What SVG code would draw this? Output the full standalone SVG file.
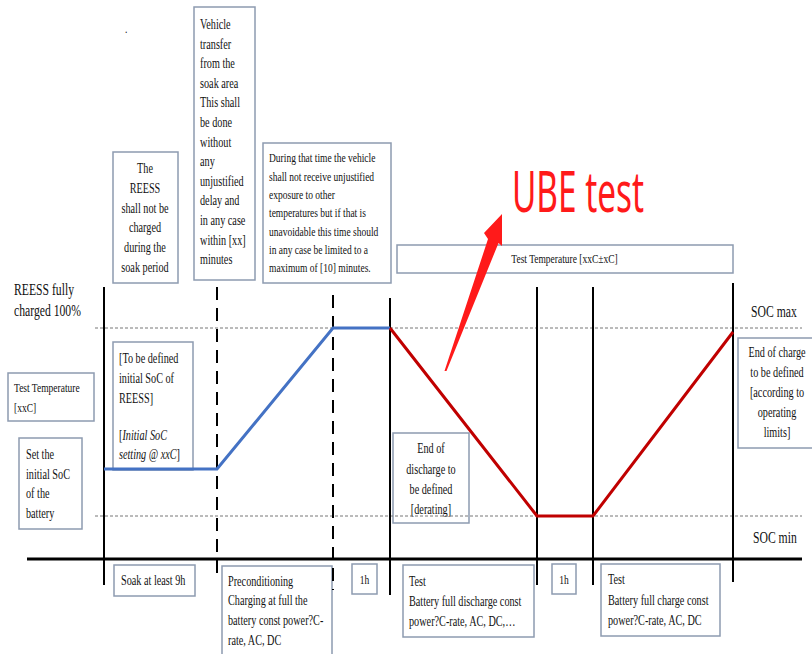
<svg xmlns="http://www.w3.org/2000/svg" width="812" height="654" viewBox="0 0 812 654">
<style>
.box{fill:#fff;stroke:#8d9bb0;stroke-width:1.5}
.t{font-family:"Liberation Serif","Times New Roman",serif;font-size:14px;fill:#111}
.s13{font-size:13px}
.s16{font-size:16px}
.c{text-anchor:middle}
.i{font-style:italic}
.vl{stroke:#000;stroke-width:2;fill:none}
.dl{stroke:#000;stroke-width:2;fill:none;stroke-dasharray:13 8}
.dot{stroke:#777;stroke-width:1;stroke-dasharray:3 2;fill:none}
</style>
<rect width="812" height="654" fill="#fff"/>
<text class="t s13" x="171.2" y="33" transform="scale(0.73 1)" fill="#888">.</text>

<g id="node-reess-not-charged">
<rect class="box" x="113" y="152" width="65" height="131"/>
<text class="t c" transform="scale(0.73 1)"><tspan x="198.6" y="173">The</tspan><tspan x="198.6" y="193">REESS</tspan><tspan x="198.6" y="213">shall not be</tspan><tspan x="198.6" y="232.5">charged</tspan><tspan x="198.6" y="252">during the</tspan><tspan x="198.6" y="272">soak period</tspan></text>
</g>
<g id="node-vehicle-transfer">
<rect class="box" x="194" y="7" width="61" height="273"/>
<text class="t" transform="scale(0.73 1)"><tspan x="274" y="29">Vehicle</tspan><tspan x="274" y="48.6">transfer</tspan><tspan x="274" y="68.2">from the</tspan><tspan x="274" y="87.8">soak area</tspan><tspan x="274" y="107.4">This shall</tspan><tspan x="274" y="127">be done</tspan><tspan x="274" y="146.6">without</tspan><tspan x="274" y="166.2">any</tspan><tspan x="274" y="185.8">unjustified</tspan><tspan x="274" y="205.4">delay and</tspan><tspan x="274" y="225">in any case</tspan><tspan x="274" y="244.6">within [xx]</tspan><tspan x="274" y="264.2">minutes</tspan></text>
</g>
<g id="node-during-time">
<rect class="box" x="263" y="143" width="128" height="140"/>
<text class="t s13" transform="scale(0.73 1)"><tspan x="368.5" y="162.5">During that time the vehicle</tspan><tspan x="368.5" y="180.8">shall not receive unjustified</tspan><tspan x="368.5" y="199.2">exposure to other</tspan><tspan x="368.5" y="217.5">temperatures but if that is</tspan><tspan x="368.5" y="235.8">unavoidable this time should</tspan><tspan x="368.5" y="254.2">in any case be limited to a</tspan><tspan x="368.5" y="272.5">maximum of [10] minutes.</tspan></text>
</g>
<g id="label-reess-full">
<text class="t s16" transform="scale(0.73 1)"><tspan x="19.2" y="295">REESS fully</tspan><tspan x="19.2" y="316">charged 100%</tspan></text>
</g>
<g id="node-initial-soc">
<rect class="box" x="113" y="342" width="80" height="128"/>
<text class="t" transform="scale(0.73 1)"><tspan x="163" y="363">[To be defined</tspan><tspan x="163" y="383">initial SoC of</tspan><tspan x="163" y="403">REESS]</tspan><tspan x="163" y="440">[<tspan class="i">Initial SoC</tspan></tspan><tspan x="163" y="459"><tspan class="i">setting @ xxC</tspan>]</tspan></text>
</g>
<g id="node-test-temp-left">
<rect class="box" x="8" y="373" width="86" height="48"/>
<text class="t s13" transform="scale(0.73 1)"><tspan x="19.2" y="392">Test Temperature</tspan><tspan x="19.2" y="412">[xxC]</tspan></text>
</g>
<g id="node-set-initial">
<rect class="box" x="19" y="438" width="63" height="91"/>
<text class="t" transform="scale(0.73 1)"><tspan x="35.6" y="459">Set the</tspan><tspan x="35.6" y="479">initial SoC</tspan><tspan x="35.6" y="498.5">of the</tspan><tspan x="35.6" y="518">battery</tspan></text>
</g>
<g id="node-test-temp-top">
<rect class="box" x="397" y="245" width="336" height="28"/>
<text class="t s13 c" x="773.3" y="263" transform="scale(0.73 1)">Test Temperature [xxC±xC]</text>
</g>
<g id="node-end-discharge">
<rect class="box" x="393" y="433" width="76" height="90"/>
<text class="t c" transform="scale(0.73 1)"><tspan x="590.4" y="453.5">End of</tspan><tspan x="590.4" y="474">discharge to</tspan><tspan x="590.4" y="494">be defined</tspan><tspan x="590.4" y="514">[derating]</tspan></text>
</g>
<g id="node-end-charge">
<rect class="box" x="738" y="338" width="80" height="110"/>
<text class="t c" transform="scale(0.73 1)"><tspan x="1064.4" y="357.5">End of charge</tspan><tspan x="1064.4" y="377.5">to be defined</tspan><tspan x="1064.4" y="397.5">[according to</tspan><tspan x="1064.4" y="417">operating</tspan><tspan x="1064.4" y="437">limits]</tspan></text>
</g>
<g id="label-soc">
<text class="t s16" x="1028.8" y="317" transform="scale(0.73 1)">SOC max</text>
<text class="t s16" x="1031.5" y="543" transform="scale(0.73 1)">SOC min</text>
</g>
<g id="node-soak">
<rect class="box" x="114" y="565" width="81" height="31"/>
<text class="t" x="165.8" y="585" transform="scale(0.73 1)">Soak at least 9h</text>
</g>
<g id="node-precond">
<rect class="box" x="222" y="566" width="110" height="100"/>
<text class="t" transform="scale(0.73 1)"><tspan x="312.3" y="586">Preconditioning</tspan><tspan x="312.3" y="605.5">Charging at full the</tspan><tspan x="312.3" y="625">battery const power?C-</tspan><tspan x="312.3" y="645">rate, AC, DC</tspan></text>
</g>
<g id="node-1h-a">
<rect class="box" x="352" y="564" width="25" height="30"/>
<text class="t s13 c" x="499.3" y="584" transform="scale(0.73 1)">1h</text>
</g>
<g id="node-test-discharge">
<rect class="box" x="403" y="565" width="131" height="72"/>
<text class="t" transform="scale(0.73 1)"><tspan x="560.3" y="586">Test</tspan><tspan x="560.3" y="606">Battery full discharge const</tspan><tspan x="560.3" y="626">power?C-rate, AC, DC,…</tspan></text>
</g>
<g id="node-1h-b">
<rect class="box" x="552" y="564" width="24" height="30"/>
<text class="t s13 c" x="772.6" y="584" transform="scale(0.73 1)">1h</text>
</g>
<g id="node-test-charge">
<rect class="box" x="601" y="564" width="119" height="72"/>
<text class="t" transform="scale(0.73 1)"><tspan x="832.9" y="584">Test</tspan><tspan x="832.9" y="605">Battery full charge const</tspan><tspan x="832.9" y="625">power?C-rate, AC, DC</tspan></text>
</g>

<g id="connectors">
<line class="dot" x1="95" y1="328" x2="802" y2="328"/>
<line class="dot" x1="95" y1="516" x2="802" y2="516"/>
<line class="vl" x1="104" y1="287" x2="104" y2="585"/>
<line class="dl" x1="217" y1="287" x2="217" y2="578"/>
<line class="dl" x1="333" y1="295" x2="333" y2="590"/>
<line class="vl" x1="390" y1="298" x2="390" y2="595"/>
<line class="vl" x1="537" y1="287" x2="537" y2="585"/>
<line class="vl" x1="593" y1="287" x2="593" y2="585"/>
<line class="vl" x1="733" y1="283" x2="733" y2="582"/>
<line x1="27" y1="559" x2="802" y2="559" stroke="#000" stroke-width="3"/>
<polyline points="104,469 217,469 333,328 390,328" fill="none" stroke="#4472c4" stroke-width="3"/>
<polyline points="390,328 537,516 593,516 733,332" fill="none" stroke="#c00000" stroke-width="3"/>
<polygon points="502,214 484,233 488,239 444.5,371 446.5,371 498.5,243 502,246" fill="#ff1a1a"/>
</g>
<text x="512" y="212" font-family="Noto Sans, Liberation Sans, sans-serif" font-size="57" fill="#ff1a1a" textLength="132" lengthAdjust="spacingAndGlyphs">UBE test</text>
</svg>
